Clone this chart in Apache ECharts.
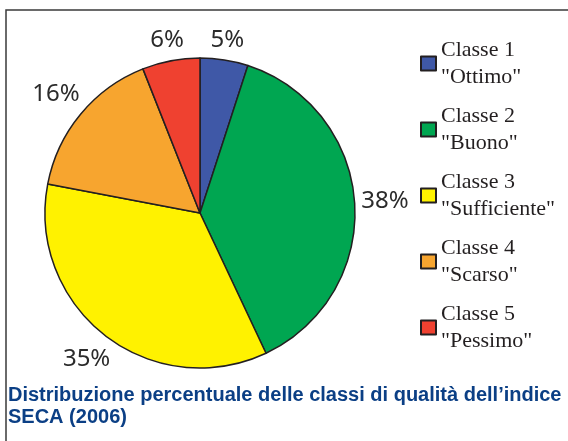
<!DOCTYPE html>
<html>
<head>
<meta charset="utf-8">
<script src="https://cdn.jsdelivr.net/npm/echarts@6/dist/echarts.min.js"></script>
<style>
  html, body { margin: 0; padding: 0; background: #fff; }
  #chart { width: 568px; height: 441px; }
</style>
</head>
<body>
<div id="chart"></div>
<script>
const categories = ['Classe 1\n"Ottimo"', 'Classe 2\n"Buono"', 'Classe 3\n"Sufficiente"', 'Classe 4\n"Scarso"', 'Classe 5\n"Pessimo"']
const values = [5, 38, 35, 16, 6]
const colors = ['#3f58a7', '#00a651', '#fff200', '#f7a52f', '#ef4130']
const caption = 'Distribuzione percentuale delle classi di qualità dell\u2019indice\nSECA (2006)'

const CX = 200, CY = 213, R = 155

const total = values.reduce((a, b) => a + b, 0)
const starts = []
values.reduce((acc, v) => { starts.push(acc); return acc + v }, 0)

const chart = echarts.init(document.getElementById('chart'))

chart.setOption({
  animation: false,
  color: colors,
  legend: {
    orient: 'vertical',
    left: 415,
    top: 18,
    itemWidth: 15,
    itemHeight: 14,
    itemGap: -15,
    icon: 'rect',
    selectedMode: false,
    textStyle: {
      fontFamily: 'Liberation Serif',
      fontSize: 22,
      color: '#231f20',
      lineHeight: 27,
      padding: [27, 0, 0, 0]
    },
    data: categories
  },
  series: [{
    type: 'pie',
    center: [CX, CY],
    radius: R,
    startAngle: 90,
    clockwise: true,
    silent: true,
    itemStyle: { borderColor: '#231f20', borderWidth: 1.5 },
    label: {
      show: true,
      position: 'outside',
      formatter: '{c}%',
      overflow: 'none',
      fontFamily: 'Noto Sans',
      fontSize: 24,
      color: '#2b2b2b'
    },
    labelLine: { show: false },
    // put each label just outside the rim, along the middle of its slice
    labelLayout: function (p) {
      const i = p.dataIndex
      const mid = (starts[i] + values[i] / 2) / total * Math.PI * 2
      const dx = Math.sin(mid), dy = -Math.cos(mid)
      const hw = p.labelRect.width / 2, hh = p.labelRect.height / 2
      const d = R + 6 + Math.abs(dx) * hw + Math.abs(dy) * hh
      return { x: CX + dx * d, y: CY + dy * d, align: 'center', verticalAlign: 'middle' }
    },
    data: categories.map((name, i) => ({ name: name, value: values[i] }))
  }],
  graphic: [
    {
      type: 'polyline',
      shape: { points: [[6, 441], [6, 10], [568, 10]] },
      style: { stroke: '#3a3a3a', lineWidth: 1.5, fill: null }
    },
    {
      type: 'text',
      left: 8,
      top: 384,
      style: {
        text: caption,
        fontFamily: 'Liberation Sans',
        fontWeight: 'bold',
        fontSize: 20,
        lineHeight: 22,
        fill: '#0b3f85'
      }
    }
  ]
})
</script>
</body>
</html>
